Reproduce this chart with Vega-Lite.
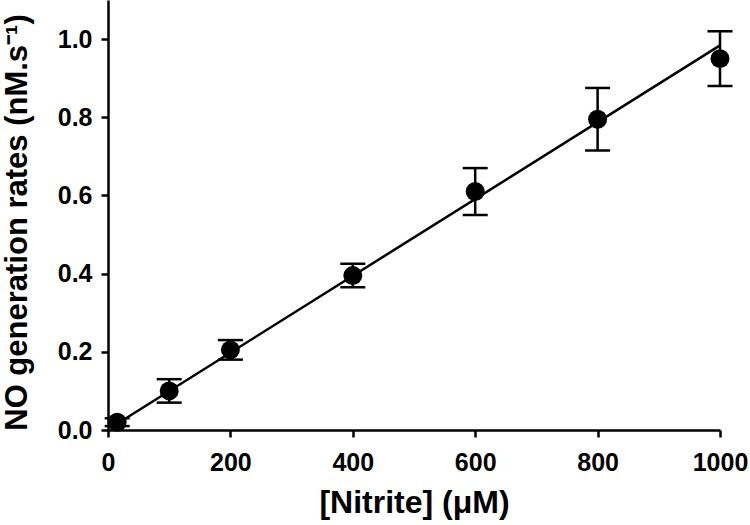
{
  "$schema": "https://vega.github.io/schema/vega-lite/v6.json",
  "width": 612,
  "height": 430,
  "autosize": {"type": "none"},
  "padding": {"left": 108, "top": 0, "right": 30, "bottom": 95},
  "background": "white",
  "config": {
    "view": {"stroke": null}
  },
  "datasets": {
    "pts": [
      {"nitrite": 15, "rate": 0.02, "lo": 0.01, "hi": 0.03},
      {"nitrite": 100, "rate": 0.10, "lo": 0.07, "hi": 0.13},
      {"nitrite": 200, "rate": 0.205, "lo": 0.18, "hi": 0.23},
      {"nitrite": 400, "rate": 0.395, "lo": 0.365, "hi": 0.425},
      {"nitrite": 600, "rate": 0.61, "lo": 0.55, "hi": 0.67},
      {"nitrite": 800, "rate": 0.795, "lo": 0.715, "hi": 0.875},
      {"nitrite": 1000, "rate": 0.95, "lo": 0.88, "hi": 1.02}
    ],
    "fit": [
      {"nitrite": 15, "rate": 0.016},
      {"nitrite": 1000, "rate": 0.984}
    ]
  },
  "encoding": {
    "x": {
      "field": "nitrite",
      "type": "quantitative",
      "scale": {"domain": [0, 1000], "nice": false, "zero": false},
      "axis": {
        "values": [0, 200, 400, 600, 800, 1000], "format": "d", "labelFlush": false, "labelOverlap": false,
        "title": "[Nitrite] (μM)", "titleY": 82, "titleBaseline": "alphabetic", "labelPadding": 13,
        "grid": false, "domainColor": "black", "domainWidth": 2.5, "tickColor": "black", "tickWidth": 2.5, "tickSize": 7,
        "labelColor": "black", "labelFont": "Liberation Sans", "labelFontWeight": "bold", "labelFontSize": 25,
        "titleColor": "black", "titleFont": "Liberation Sans", "titleFontWeight": "bold", "titleFontSize": 32
      }
    },
    "y": {
      "field": "rate",
      "type": "quantitative",
      "scale": {"domain": [0, 1.1], "nice": false},
      "axis": {
        "values": [0, 0.2, 0.4, 0.6, 0.8, 1.0], "format": ".1f", "labelFlush": false, "labelOverlap": false,
        "title": "NO generation rates (nM.s⁻¹)", "titleX": -91, "titleY": 222, "titleBaseline": "middle", "labelPadding": 9,
        "grid": false, "domainColor": "black", "domainWidth": 2.5, "tickColor": "black", "tickWidth": 2.5, "tickSize": 7,
        "labelColor": "black", "labelFont": "Liberation Sans", "labelFontWeight": "bold", "labelFontSize": 25,
        "titleColor": "black", "titleFont": "Liberation Sans", "titleFontWeight": "bold", "titleFontSize": 31
      }
    }
  },
  "layer": [
    {
      "data": {"name": "fit"},
      "mark": {"type": "line", "color": "black", "strokeWidth": 2.5},
      "encoding": {}
    },
    {
      "data": {"name": "pts"},
      "mark": {"type": "rule", "color": "black", "strokeWidth": 2.5},
      "encoding": {"y": {"field": "lo", "type": "quantitative"}, "y2": {"field": "hi"}}
    },
    {
      "data": {"name": "pts"},
      "mark": {"type": "tick", "orient": "horizontal", "color": "black", "size": 25, "thickness": 2.5, "opacity": 1},
      "encoding": {"y": {"field": "lo", "type": "quantitative"}}
    },
    {
      "data": {"name": "pts"},
      "mark": {"type": "tick", "orient": "horizontal", "color": "black", "size": 25, "thickness": 2.5, "opacity": 1},
      "encoding": {"y": {"field": "hi", "type": "quantitative"}}
    },
    {
      "data": {"name": "pts"},
      "mark": {"type": "point", "filled": true, "color": "black", "opacity": 1, "size": 360}
    }
  ]
}
